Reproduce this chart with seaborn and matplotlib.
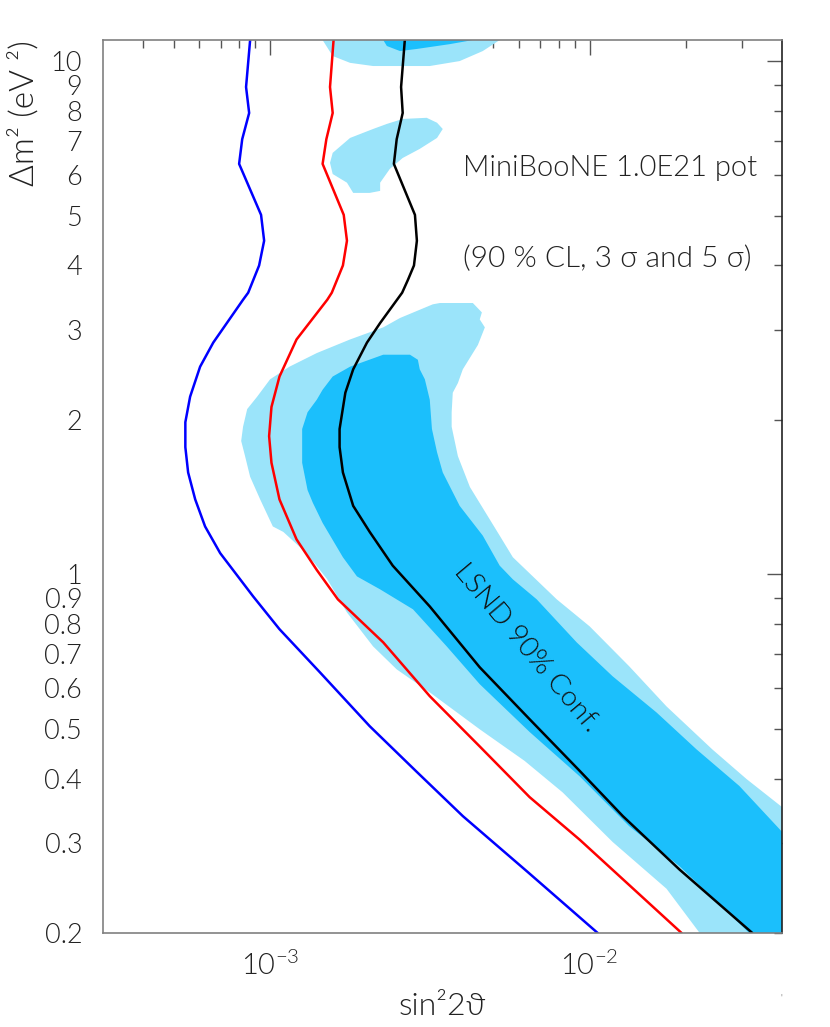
"""
MiniBooNE 1.0E21 pot sensitivity vs the LSND allowed region.
"""

import matplotlib
matplotlib.use("Agg")
import matplotlib.pyplot as plt
import seaborn as sns
from matplotlib.ticker import FixedLocator, FuncFormatter, NullFormatter, LogFormatterMathtext


sns.set_style("white")
plt.rcParams['font.family'] = ['Lato', 'DejaVu Sans']
plt.rcParams['font.weight'] = 300
plt.rcParams['axes.labelweight'] = 300

# --- sensitivity curves: sin^2(2theta) against dm^2 (eV^2) ---
dm2_90 = [11.0, 8.91, 7.93, 7.05, 6.31, 5.02, 4.47, 4.00, 3.54, 3.43, 2.83, 2.54, 2.22,
          1.98, 1.77, 1.58, 1.40, 1.24, 1.10, 0.906, 0.782, 0.645, 0.506, 0.412,
          0.338, 0.263, 0.200]
sin2_90 = [8.66e-4, 8.41e-4, 8.60e-4, 8.18e-4, 8.00e-4, 9.37e-4, 9.58e-4, 9.24e-4,
           8.54e-4, 8.23e-4, 6.64e-4, 6.04e-4, 5.62e-4, 5.43e-4, 5.43e-4, 5.54e-4,
           5.83e-4, 6.26e-4, 6.98e-4, 8.85e-4, 1.07e-3, 1.43e-3, 2.05e-3, 2.88e-3,
           4.01e-3, 6.40e-3, 1.06e-2]

dm2_3s = [11.0, 8.91, 7.93, 7.05, 6.31, 5.02, 4.47, 4.00, 3.54, 3.43, 2.87, 2.43, 2.12,
          1.86, 1.65, 1.40, 1.17, 1.02, 0.894, 0.737, 0.579, 0.462, 0.368, 0.304, 0.200]
sin2_3s = [1.58e-3, 1.54e-3, 1.57e-3, 1.50e-3, 1.46e-3, 1.70e-3, 1.74e-3, 1.69e-3,
           1.56e-3, 1.51e-3, 1.21e-3, 1.07e-3, 1.01e-3, 9.93e-4, 1.01e-3, 1.07e-3,
           1.21e-3, 1.40e-3, 1.63e-3, 2.26e-3, 3.16e-3, 4.53e-3, 6.49e-3, 9.31e-3, 1.94e-2]

dm2_5s = [11.0, 8.91, 7.93, 7.05, 6.31, 5.02, 4.47, 4.00, 3.75, 3.54, 3.09, 2.83, 2.51,
          2.26, 1.92, 1.77, 1.58, 1.36, 1.21, 1.04, 0.866, 0.659, 0.522, 0.414, 0.338,
          0.266, 0.200]
sin2_5s = [2.64e-3, 2.57e-3, 2.60e-3, 2.49e-3, 2.44e-3, 2.84e-3, 2.88e-3, 2.82e-3,
           2.70e-3, 2.59e-3, 2.21e-3, 2.01e-3, 1.82e-3, 1.72e-3, 1.65e-3, 1.65e-3,
           1.69e-3, 1.82e-3, 2.05e-3, 2.42e-3, 3.16e-3, 4.53e-3, 6.49e-3, 9.31e-3,
           1.27e-2, 1.91e-2, 3.23e-2]

# --- LSND allowed regions (outer = light, inner = dark) ---
lsnd_outer_x = [8.12e-4, 8.23e-4, 8.48e-4, 9.11e-4, 1.00e-3, 1.15e-3, 1.40e-3, 1.78e-3,
                2.26e-3, 2.55e-3, 3.23e-3, 3.40e-3, 4.31e-3, 4.60e-3, 4.53e-3, 4.70e-3,
                4.47e-3, 4.01e-3, 3.87e-3, 3.73e-3, 3.70e-3, 3.70e-3, 3.87e-3, 4.22e-3,
                5.23e-3, 5.75e-3, 6.64e-3, 7.89e-3, 1.00e-2, 1.33e-2, 1.74e-2, 2.42e-2,
                3.10e-2, 4.00e-2, 4.00e-2, 2.21e-2, 1.74e-2, 1.18e-2, 8.23e-3, 6.26e-3,
                4.53e-3, 3.16e-3, 2.49e-3, 2.10e-3, 1.74e-3, 1.51e-3, 1.38e-3, 1.24e-3,
                1.10e-3, 1.02e-3, 9.31e-4, 8.66e-4, 8.35e-4]
lsnd_outer_y = [1.82, 1.94, 2.10, 2.22, 2.40, 2.54, 2.70, 2.87, 3.03, 3.16, 3.36, 3.38,
                3.38, 3.24, 3.14, 3.03, 2.80, 2.51, 2.36, 2.26, 2.07, 1.94, 1.70, 1.48,
                1.19, 1.08, 0.991, 0.894, 0.792, 0.662, 0.553, 0.456, 0.399, 0.352,
                0.200, 0.200, 0.244, 0.301, 0.376, 0.433, 0.499, 0.589, 0.653, 0.724,
                0.843, 0.978, 1.05, 1.13, 1.21, 1.24, 1.40, 1.55, 1.70]

lsnd_inner_x = [2.26e-3, 2.74e-3, 2.90e-3, 2.94e-3, 3.05e-3, 3.16e-3, 3.21e-3, 3.33e-3,
                3.47e-3, 3.92e-3, 4.63e-3, 5.23e-3, 5.75e-3, 6.83e-3, 9.11e-3, 1.18e-2,
                1.62e-2, 2.16e-2, 2.94e-2, 4.00e-2, 4.00e-2, 3.16e-2, 1.91e-2, 1.33e-2,
                9.31e-3, 6.49e-3, 4.53e-3, 3.57e-3, 2.80e-3, 2.21e-3, 1.87e-3, 1.69e-3,
                1.46e-3, 1.36e-3, 1.31e-3, 1.26e-3, 1.26e-3, 1.31e-3, 1.40e-3, 1.46e-3,
                1.57e-3, 1.78e-3]
lsnd_inner_y = [2.68, 2.68, 2.62, 2.51, 2.40, 2.19, 1.92, 1.73, 1.58, 1.36, 1.19, 1.04,
                0.978, 0.894, 0.737, 0.633, 0.538, 0.456, 0.387, 0.315, 0.200, 0.200,
                0.270, 0.323, 0.404, 0.493, 0.611, 0.724, 0.855, 0.935, 0.991, 1.08,
                1.26, 1.38, 1.46, 1.65, 1.92, 2.07, 2.19, 2.29, 2.43, 2.54]

top_outer_x = [1.46e-3, 1.57e-3, 1.78e-3, 2.10e-3, 3.16e-3, 3.92e-3, 4.63e-3, 5.23e-3]
top_outer_y = [11.0, 10.24, 9.93, 9.79, 9.79, 10.01, 10.47, 11.0]
top_inner_x = [2.26e-3, 2.32e-3, 2.55e-3, 2.88e-3, 3.65e-3, 4.31e-3]
top_inner_y = [11.0, 10.71, 10.47, 10.57, 10.80, 11.0]

island_x = [2.60e-3, 3.09e-3, 3.33e-3, 3.47e-3, 3.33e-3, 2.94e-3, 2.60e-3, 2.37e-3,
            2.21e-3, 2.21e-3, 2.05e-3, 1.82e-3, 1.74e-3, 1.57e-3, 1.54e-3, 1.57e-3,
            1.78e-3, 2.10e-3, 2.32e-3]
island_y = [7.72, 7.76, 7.59, 7.38, 7.09, 6.75, 6.48, 6.17, 5.80, 5.59, 5.54, 5.54,
            5.80, 6.03, 6.34, 6.63, 7.09, 7.38, 7.55]

x_major = [1e-3, 1e-2]
x_minor = [4e-4, 5e-4, 6e-4, 7e-4, 8e-4, 9e-4, 2e-3, 3e-3, 4e-3, 5e-3, 6e-3, 7e-3,
           8e-3, 9e-3, 2e-2, 3e-2]
y_major = [1, 10]
y_minor = [0.2, 0.3, 0.4, 0.5, 0.6, 0.7, 0.8, 0.9, 2, 3, 4, 5, 6, 7, 8, 9]

LIGHT = '#9BE4FA'
DARK = '#1BBFFC'
TEXT = '#222222'

fig = plt.figure(figsize=(8.3, 10.27), dpi=100)
ax = fig.add_axes([0.1241, 0.0915, 0.8181, 0.8695])
ax.set_xscale('log')
ax.set_yscale('log')

# LSND regions
for xs, ys, col in [(lsnd_outer_x, lsnd_outer_y, LIGHT),
                    (lsnd_inner_x, lsnd_inner_y, DARK),
                    (top_outer_x, top_outer_y, LIGHT),
                    (top_inner_x, top_inner_y, DARK),
                    (island_x, island_y, LIGHT)]:
    ax.fill(xs, ys, color=col, lw=0, zorder=1)

# MiniBooNE curves
for xs, ys, col in [(sin2_90, dm2_90, '#0000FF'),
                    (sin2_3s, dm2_3s, '#FF0000'),
                    (sin2_5s, dm2_5s, '#000000')]:
    sns.lineplot(x=xs, y=ys, sort=False, estimator=None, color=col, lw=1.8, ax=ax, zorder=3)

ax.set_xlim(3e-4, 4e-2)
ax.set_ylim(0.2, 11.0)

ax.xaxis.set_major_locator(FixedLocator(x_major))
ax.xaxis.set_minor_locator(FixedLocator(x_minor))
ax.xaxis.set_major_formatter(LogFormatterMathtext())
ax.xaxis.set_minor_formatter(NullFormatter())
fmt = FuncFormatter(lambda v, pos: f'{v:g}')
ax.yaxis.set_major_locator(FixedLocator(y_major))
ax.yaxis.set_minor_locator(FixedLocator(y_minor))
ax.yaxis.set_major_formatter(fmt)
ax.yaxis.set_minor_formatter(fmt)

ax.tick_params(axis='both', which='both', direction='in', top=True, right=True,
               color='#555555', labelcolor=TEXT, width=1)
ax.tick_params(which='major', length=11)
ax.tick_params(which='minor', length=6)
ax.tick_params(axis='y', which='both', labelsize=19.5, pad=15)
ax.tick_params(axis='x', which='both', labelsize=21, pad=13)

for side in ['left', 'bottom', 'top']:
    ax.spines[side].set_color('#808080')
ax.spines['right'].set_color('#222222')
for s in ax.spines.values():
    s.set_linewidth(1.2)
    s.set_zorder(5)

ax.set_xlabel('sin²2ϑ', fontsize=23, color=TEXT)
ax.xaxis.set_label_coords(0.5, -0.066)
ax.set_ylabel('Δm² (eV ²)', fontsize=24, color=TEXT, loc='top')
ax.yaxis.set_label_coords(-0.093, 1.0)

ax.text(0.53, 0.848, 'MiniBooNE 1.0E21 pot', transform=ax.transAxes,
        fontsize=21, color=TEXT, va='baseline')
ax.text(0.53, 0.746, '(90 % CL, 3 σ and 5 σ)', transform=ax.transAxes,
        fontsize=21.5, color=TEXT, va='baseline')
ax.text(0.623, 0.319, 'LSND 90% Conf.', transform=ax.transAxes, fontsize=20.5,
        color='#111111', ha='center', va='center', rotation=-50, rotation_mode='anchor',
        zorder=4)
fig.text(0.94, 0.026, "'", fontsize=7, color=TEXT)

fig.savefig('out.png', dpi=100)
